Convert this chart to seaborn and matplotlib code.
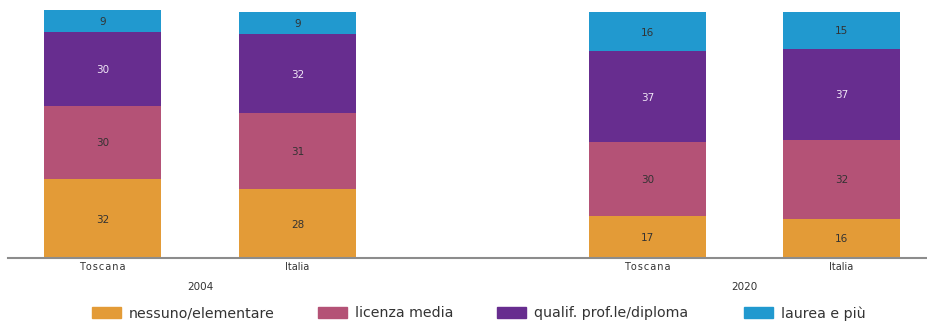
import numpy as np
import pandas as pd
import matplotlib
matplotlib.use("Agg")
import matplotlib.pyplot as plt
import matplotlib.patches as mpatches
import seaborn as sns

# Titolo di studio della popolazione (%), Toscana e Italia, 2004 e 2020
regions = ["Toscana", "Italia", "Toscana", "Italia"]
years = ["2004", "2020"]
levels = ["nessuno/elementare", "licenza media", "qualif. prof.le/diploma", "laurea e più"]
nessuno = [32, 28, 17, 16]
licenza = [30, 31, 30, 32]
diploma = [30, 32, 37, 37]
laurea = [9, 9, 16, 15]

colors = ["#E39B37", "#B45276", "#672D8F", "#2199CF"]
label_colors = ["#333333", "#333333", "#F0E6F6", "#333333"]

# bar positions: two groups with a wider gap between years
xpos = np.array([0.0, 1.0, 2.795, 3.79])

sns.set_theme(style="white")
plt.rcParams["font.family"] = ["DejaVu Sans"]

fig = plt.figure(figsize=(9.27, 3.22), dpi=100)
ax = fig.add_axes([8 / 927, 64 / 322, 919 / 927, 258 / 322])

layers = [nessuno, licenza, diploma, laurea]
cum = np.cumsum(np.array(layers), axis=0)

# draw cumulative totals from the top layer down so each layer shows its own band
for i in range(len(layers) - 1, -1, -1):
    df = pd.DataFrame({"x": xpos, "y": cum[i]})
    sns.barplot(data=df, x="x", y="y", native_scale=True, color=colors[i],
                saturation=1, width=0.6, ax=ax, errorbar=None, linewidth=0)

for i, vals in enumerate(layers):
    bottoms = cum[i] - np.array(vals)
    for x, b, v in zip(xpos, bottoms, vals):
        ax.text(x, b + v / 2 - 0.4, str(v), ha="center", va="center",
                fontsize=7.5, color=label_colors[i])

ax.set_xlim((8 - 102.5) / 195, (927 - 102.5) / 195)
ax.set_ylim(0, 104.9)
ax.set_xticks(xpos)
ax.set_xticklabels(["T\u200ao\u200as\u200ac\u200aa\u200an\u200aa" if r == "Toscana" else r
                    for r in regions], fontsize=7, color="#333333")
ax.tick_params(axis="x", length=0, pad=3)
ax.set_yticks([])
ax.set_xlabel("")
ax.set_ylabel("")
for s in ["top", "left", "right"]:
    ax.spines[s].set_visible(False)
ax.spines["bottom"].set_color("#8c8c8c")
ax.spines["bottom"].set_linewidth(1.5)

# year labels centred under each pair of bars
for j, yr in enumerate(years):
    xc = (xpos[2 * j] + xpos[2 * j + 1]) / 2
    ax.text(xc, -11.8, yr, ha="center", va="center", fontsize=7.5, color="#333333")

# legend entries placed along the bottom edge
legend_x = [92, 318, 497, 744]
for c, l, lx in zip(colors, levels, legend_x):
    fig.legend(handles=[mpatches.Patch(color=c, label=l)], loc="center left",
               bbox_to_anchor=(lx / 927, 0.027), frameon=False, fontsize=10.2,
               handlelength=2.04, handleheight=0.85, handletextpad=0.56,
               labelcolor="#333333", borderpad=0, borderaxespad=0)

fig.savefig("out.png", dpi=100)
